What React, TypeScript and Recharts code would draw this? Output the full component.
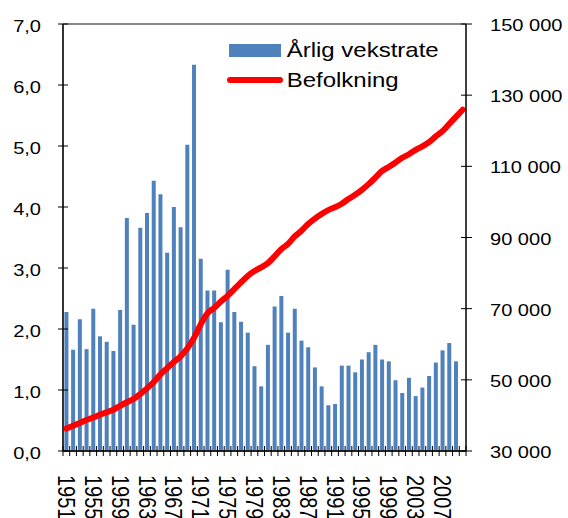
import { ComposedChart, Bar, Line, XAxis, YAxis, Legend, ReferenceLine } from 'recharts';

// Kategorier: årstall 1951-2010 (2010 har bare befolkningstall)
const years = [
  1951, 1952, 1953, 1954, 1955, 1956, 1957, 1958, 1959, 1960,
  1961, 1962, 1963, 1964, 1965, 1966, 1967, 1968, 1969, 1970,
  1971, 1972, 1973, 1974, 1975, 1976, 1977, 1978, 1979, 1980,
  1981, 1982, 1983, 1984, 1985, 1986, 1987, 1988, 1989, 1990,
  1991, 1992, 1993, 1994, 1995, 1996, 1997, 1998, 1999, 2000,
  2001, 2002, 2003, 2004, 2005, 2006, 2007, 2008, 2009, 2010,
];

// Årlig vekstrate (%), 1951-2009
const growth = [
  2.28, 1.66, 2.16, 1.67, 2.33, 1.88, 1.79, 1.64, 2.31, 3.82,
  2.07, 3.66, 3.9, 4.43, 4.21, 3.25, 4.0, 3.67, 5.02, 6.33,
  3.15, 2.63, 2.63, 2.11, 2.97, 2.28, 2.12, 1.94, 1.39, 1.06,
  1.74, 2.37, 2.54, 1.94, 2.33, 1.81, 1.7, 1.37, 1.06, 0.75,
  0.77, 1.4, 1.4, 1.29, 1.5, 1.62, 1.74, 1.5, 1.47, 1.16,
  0.95, 1.2, 0.9, 1.04, 1.23, 1.45, 1.65, 1.77, 1.47,
];

// Befolkning, 1951-2010
const population = [
  36300, 37100, 37900, 38700, 39400, 40200, 40900, 41600, 42700, 43700,
  44600, 46000, 47600, 49400, 51500, 53300, 55000, 56600, 58800, 61800,
  65600, 68700, 70200, 72000, 73600, 75500, 77400, 79200, 80600, 81600,
  82800, 84700, 86700, 88200, 90300, 91900, 93800, 95300, 96600, 97700,
  98500, 99500, 100800, 102000, 103400, 105000, 106800, 108700, 109800, 111100,
  112400, 113400, 114600, 115600, 116800, 118400, 119900, 121900, 123900, 125900,
];

const leftTicks = [0, 1, 2, 3, 4, 5, 6, 7];
const rightTicks = [30000, 50000, 70000, 90000, 110000, 130000, 150000];

const data = years.map((year, i) => ({
  year,
  growth: growth[i] ?? null,
  population: population[i],
}));

const FONT = '"Liberation Sans", Arial, sans-serif';
const WIDTH = 568;
const HEIGHT = 518;
const LEFT_W = 63;
const RIGHT_W = 102;
const BAND = (WIDTH - LEFT_W - RIGHT_W) / years.length;

const fmtLeft = (v: number) => v.toFixed(1).replace('.', ',');
const fmtRight = (v: number) => String(v).replace(/\B(?=(\d{3})+(?!\d))/g, ' ');

function LeftTick({ x, y, payload }: any) {
  return (
    <g>
      <line x1={x - 5} x2={x + 5} y1={y} y2={y} stroke="#000" strokeWidth={1} />
      <text
        transform={`translate(${x - 22},${y + 8}) scale(1.18,1)`}
        textAnchor="end"
        fontSize={17}
        fontFamily={FONT}
        fill="#000"
      >
        {fmtLeft(payload.value)}
      </text>
    </g>
  );
}

function RightTick({ x, y, payload }: any) {
  return (
    <g>
      <line x1={x - 5} x2={x + 6} y1={y} y2={y} stroke="#000" strokeWidth={1} />
      <text
        transform={`translate(${x + 24},${y + 7}) scale(1.18,1)`}
        textAnchor="start"
        fontSize={17}
        fontFamily={FONT}
        fill="#000"
      >
        {fmtRight(payload.value)}
      </text>
    </g>
  );
}

function YearTick({ x, y, payload, index }: any) {
  const showLabel = (payload.value - years[0]) % 4 === 0;
  const isLast = index === years.length - 1;
  return (
    <g>
      <line x1={x - BAND / 2} x2={x - BAND / 2} y1={y - 5} y2={y + 5} stroke="#000" strokeWidth={1} />
      {isLast && (
        <line x1={x + BAND / 2} x2={x + BAND / 2} y1={y - 5} y2={y + 5} stroke="#000" strokeWidth={1} />
      )}
      {showLabel && (
        <text
          transform={`translate(${x},${y + 24}) rotate(90) scale(1,1.2)`}
          y={7}
          textAnchor="start"
          fontSize={20}
          fontFamily={FONT}
          fill="#000"
        >
          {payload.value}
        </text>
      )}
    </g>
  );
}

function renderLegend() {
  return (
    <svg width={250} height={64} style={{ overflow: 'visible' }}>
      <rect x={9} y={14} width={52} height={13} fill="#4F81BD" />
      <text transform="translate(66.7,27.3) scale(1.2,1)" fontSize={20} fontFamily={FONT} fill="#000">
        Årlig vekstrate
      </text>
      <line x1={10} x2={60} y1={50} y2={50} stroke="#FF0000" strokeWidth={6} strokeLinecap="round" />
      <text transform="translate(66.7,56.7) scale(1.2,1)" fontSize={20} fontFamily={FONT} fill="#000">
        Befolkning
      </text>
    </svg>
  );
}

export default function App() {
  return (
    <div style={{ position: 'absolute', left: 0, top: 0, width: WIDTH, height: HEIGHT, background: '#fff' }}>
      <ComposedChart
        width={WIDTH}
        height={HEIGHT}
        data={data}
        margin={{ top: 24, right: 0, bottom: 0, left: 0 }}
        barCategoryGap="21%"
      >
        <XAxis
          dataKey="year"
          interval={0}
          height={67}
          tickSize={0}
          tickMargin={0}
          tickLine={false}
          tick={<YearTick />}
          axisLine={{ stroke: '#222', strokeWidth: 2 }}
        />
        <YAxis
          yAxisId="left"
          domain={[0, 7]}
          ticks={leftTicks}
          width={LEFT_W}
          tickSize={0}
          tickMargin={0}
          tickLine={false}
          tick={<LeftTick />}
          axisLine={{ stroke: '#333', strokeWidth: 2 }}
        />
        <YAxis
          yAxisId="right"
          orientation="right"
          domain={[30000, 150000]}
          ticks={rightTicks}
          width={RIGHT_W}
          tickSize={0}
          tickMargin={0}
          tickLine={false}
          tick={<RightTick />}
          axisLine={{ stroke: '#000', strokeWidth: 1.5 }}
        />
        <ReferenceLine yAxisId="left" y={7} stroke="#888" strokeWidth={2} />
        <Legend
          layout="vertical"
          align="center"
          verticalAlign="middle"
          content={renderLegend}
          wrapperStyle={{ top: 30, left: 220, width: 250, height: 64 }}
        />
        <Bar
          yAxisId="left"
          dataKey="growth"
          name="Årlig vekstrate"
          fill="#4F81BD"
          legendType="rect"
          isAnimationActive={false}
        />
        <Line
          yAxisId="right"
          dataKey="population"
          name="Befolkning"
          type="monotone"
          stroke="#FF0000"
          strokeWidth={6}
          strokeLinecap="round"
          dot={false}
          activeDot={false}
          legendType="line"
          isAnimationActive={false}
        />
      </ComposedChart>
    </div>
  );
}
